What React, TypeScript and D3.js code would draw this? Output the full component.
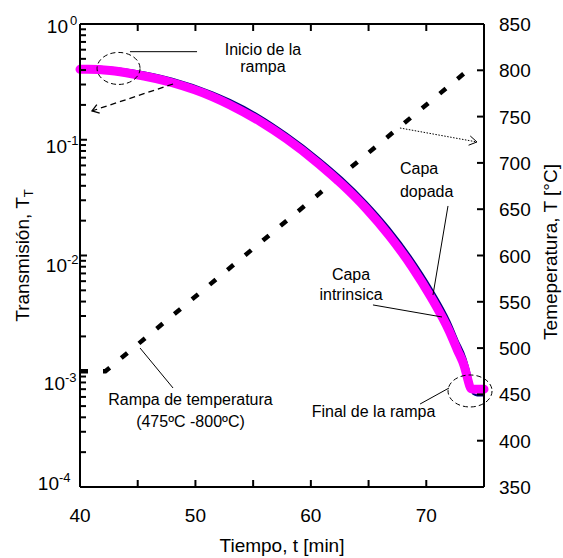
import React from "react";
import * as d3 from "d3";

// ---------- data ----------
const timeIntrinsic = [40, 40.7, 42.6, 44.6, 48.0, 51.5, 53.0, 55.6, 57.9, 60.7, 62.7, 64.8, 66.8, 68.8, 70.4, 72.0, 72.7, 73.3, 73.6, 73.85, 74.2, 75.0];
const transIntrinsic = [0.406, 0.406, 0.396, 0.37, 0.311, 0.235, 0.2, 0.144, 0.1016, 0.0618, 0.0412, 0.0254, 0.01483, 0.00789, 0.00438, 0.00221, 0.00152, 0.0011, 0.00085, 0.00071, 0.0007, 0.0007];
const timeDoped = [40, 40.7, 42.6, 44.6, 48.0, 51.5, 53.0, 55.6, 57.9, 60.7, 62.7, 64.8, 66.8, 68.8, 70.4, 72.0, 72.7, 73.4, 73.8, 74.05, 74.4, 75.0];
const transDoped = [0.43, 0.43, 0.42, 0.396, 0.336, 0.256, 0.22, 0.16, 0.1128, 0.0692, 0.0466, 0.029, 0.0172, 0.00931, 0.00526, 0.0027, 0.00185, 0.00128, 0.0009, 0.00064, 0.00062, 0.00062];
const rampTime = [40, 42.2, 73.6];
const rampTemp = [475, 475, 800];

const xTickLabels = [40, 50, 60, 70];
const xInnerTicks = [45, 50, 55, 60, 65, 70];
const leftDecades = [0, -1, -2, -3, -4];
const rightTicks = [350, 400, 450, 500, 550, 600, 650, 700, 750, 800, 850];

// annotation texts
const txtInicio = ["Inicio de la", "rampa"];
const txtDopada = ["Capa", "dopada"];
const txtIntr = ["Capa", "intrinsica"];
const txtRampa = ["Rampa de temperatura", "(475ºC -800ºC)"];
const txtFinal = "Final de la rampa";

// ---------- layout ----------
const W = 563;
const H = 558;
const L = 80, R = 484, T = 24, B = 487;
const FONT = "'Liberation Sans', Arial, Helvetica, sans-serif";
// per-label nudges of the left log labels (baseline offset, right edge of "10")
const decadeNudge = [
  { dy: 9, xr: 68, ex: 2 },
  { dy: 13, xr: 67, ex: 0 },
  { dy: 16, xr: 67, ex: 0 },
  { dy: 19, xr: 65, ex: 0 },
  { dy: 3, xr: 59, ex: 0 },
];

export default function App() {
  const x = d3.scaleLinear().domain([40, 75]).range([L, R]);
  const yL = d3.scaleLog().domain([1e-4, 1]).range([B, T]);
  const yR = d3.scaleLinear().domain([350, 850]).range([B, T]);

  const lineL = d3
    .line<[number, number]>()
    .x((d) => x(d[0]))
    .y((d) => yL(d[1]))
    .curve(d3.curveMonotoneX);
  const lineR = d3
    .line<[number, number]>()
    .x((d) => x(d[0]))
    .y((d) => yR(d[1]));

  const intrinsic = timeIntrinsic.map((t, i) => [t, transIntrinsic[i]] as [number, number]);
  const doped = timeDoped.map((t, i) => [t, transDoped[i]] as [number, number]);
  const ramp = rampTime.map((t, i) => [t, rampTemp[i]] as [number, number]);

  // minor log ticks
  const minor: number[] = [];
  for (let e = -4; e < 0; e++) for (let m = 2; m <= 9; m++) minor.push(m * Math.pow(10, e));

  // annotation helper (time, temperature) -> px
  const P = (t: number, c: number) => [x(t), yR(c)];

  const arrowHead = (from: number[], to: number[], len: number, ang: number) => {
    const a = Math.atan2(from[1] - to[1], from[0] - to[0]);
    const p1 = [to[0] + len * Math.cos(a + ang), to[1] + len * Math.sin(a + ang)];
    const p2 = [to[0] + len * Math.cos(a - ang), to[1] + len * Math.sin(a - ang)];
    return `M${p1[0]},${p1[1]}L${to[0]},${to[1]}L${p2[0]},${p2[1]}`;
  };

  const inicioC = P(43.34, 802);
  const inicioLine = [P(44.33, 820.1), P(50.14, 820.1)];
  const dashArrow = [P(48.06, 785.2), P(41.04, 756.1)];
  const dotArrow = [P(67.72, 737.7), P(74.39, 722.6)];
  const dopadaLine = [P(71.88, 653.5), P(70.58, 557.4)];
  const intrLine = [P(65.38, 546.6), P(71.36, 533.6)];
  const rampaLine = [P(45.2, 500.1), P(48.06, 456.9)];
  const finalLine = [P(69.46, 439.6), P(71.97, 456.9)];
  const finalC = P(73.79, 453.7);

  const seg = (s: number[][]) => `M${s[0][0]},${s[0][1]}L${s[1][0]},${s[1][1]}`;

  return (
    <svg
      width={W}
      height={H}
      style={{ position: "absolute", left: 0, top: 0, background: "#fff" }}
      fontFamily={FONT}
    >
      <rect x={0} y={0} width={W} height={H} fill="#fff" />

      {/* ramp (right axis) */}
      <path
        d={lineR(ramp) || ""}
        fill="none"
        stroke="#000"
        strokeWidth={4.5}
        strokeDasharray="8,15"
      />

      {/* transmission curves: doped (blue) below, intrinsic (magenta) on top */}
      <path d={lineL(doped) || ""} fill="none" stroke="#000080" strokeWidth={2.2} />
      <path d={lineL(intrinsic) || ""} fill="none" stroke="#FF00FF" strokeWidth={9} strokeLinejoin="round" strokeLinecap="round" />

      {/* frame */}
      <g stroke="#000" strokeWidth={2} fill="none">
        <line x1={L} y1={T} x2={R} y2={T} />
        <line x1={L} y1={B} x2={R} y2={B} />
        <line x1={L} y1={T} x2={L} y2={B} />
        <line x1={R} y1={T} x2={R} y2={B} />
      </g>

      {/* ticks */}
      <g stroke="#000" strokeWidth={2}>
        {xInnerTicks.map((t) => (
          <g key={t}>
            <line x1={x(t)} x2={x(t)} y1={B} y2={B - 7} />
            <line x1={x(t)} x2={x(t)} y1={T} y2={T + 7} />
          </g>
        ))}
        {leftDecades.map((e) => (
          <line key={e} x1={L} x2={L + 7} y1={yL(Math.pow(10, e))} y2={yL(Math.pow(10, e))} />
        ))}
        {minor.map((v, i) => (
          <line key={i} x1={L} x2={L + 6} y1={yL(v)} y2={yL(v)} />
        ))}
        {rightTicks.map((v) => (
          <line key={v} x1={R} x2={R - 7} y1={yR(v)} y2={yR(v)} />
        ))}
      </g>

      {/* x tick labels */}
      <g fontSize={19} textAnchor="middle" fill="#000">
        {xTickLabels.map((t) => (
          <text key={t} x={x(t)} y={522}>
            {t}
          </text>
        ))}
      </g>

      {/* left tick labels */}
      <g fill="#000">
        {leftDecades.map((e, i) => {
          const yy = yL(Math.pow(10, e));
          const n = decadeNudge[i];
          return (
            <g key={e}>
              <text x={n.xr} y={yy + n.dy} fontSize={19} textAnchor="end">
                10
              </text>
              <text x={n.xr + n.ex} y={yy + n.dy - 8} fontSize={13} textAnchor="start">
                {e === 0 ? "0" : `-${-e}`}
              </text>
            </g>
          );
        })}
      </g>

      {/* right tick labels */}
      <g fontSize={19} fill="#000">
        {rightTicks.map((v) => (
          <text key={v} x={499} y={yR(v) + 7}>
            {v}
          </text>
        ))}
      </g>

      {/* axis titles */}
      <text x={(L + R) / 2} y={552} fontSize={19} textAnchor="middle" fill="#000">
        Tiempo, t [min]
      </text>
      <text
        transform={`translate(29,${(T + B) / 2}) rotate(-90)`}
        fontSize={19}
        textAnchor="middle"
        fill="#000"
      >
        Transmisión, T<tspan fontSize={13} dy={4}>T</tspan>
      </text>
      <text
        transform={`translate(557,${252}) rotate(-90)`}
        fontSize={19}
        textAnchor="middle"
        fill="#000"
      >
        Temeperatura, T [°C]
      </text>

      {/* annotations */}
      <g fill="none" stroke="#000" strokeWidth={1}>
        <ellipse cx={inicioC[0]} cy={inicioC[1]} rx={21.5} ry={16} strokeDasharray="5,3" />
        <path d={seg(inicioLine)} />
        <path d={seg(dashArrow)} strokeDasharray="6,4" strokeWidth={1.3} />
        <path d={arrowHead(dashArrow[0], dashArrow[1], 8, 0.6)} strokeWidth={1.3} />
        <path d={seg(dotArrow)} strokeDasharray="1.5,1.5" />
        <path d={arrowHead(dotArrow[0], dotArrow[1], 9, 0.55)} />
        <path d={seg(dopadaLine)} />
        <path d={seg(intrLine)} />
        <path d={seg(rampaLine)} />
        <path d={seg(finalLine)} />
        <ellipse cx={finalC[0]} cy={finalC[1]} rx={22} ry={16} strokeDasharray="5,3" />
      </g>

      <g fontSize={16} fill="#000">
        <text x={x(55.85)} y={yR(816.5)} textAnchor="middle">{txtInicio[0]}</text>
        <text x={x(55.85)} y={yR(798.1)} textAnchor="middle">{txtInicio[1]}</text>
        <text x={x(67.72)} y={yR(687.5)}>{txtDopada[0]}</text>
        <text x={x(67.72)} y={yR(663.7)}>{txtDopada[1]}</text>
        <text x={x(63.48)} y={yR(573.6)} textAnchor="middle">{txtIntr[0]}</text>
        <text x={x(63.48)} y={yR(552.0)} textAnchor="middle">{txtIntr[1]}</text>
        <text x={x(49.57)} y={yR(438.6)} textAnchor="middle">{txtRampa[0]}</text>
        <text x={x(49.57)} y={yR(414.8)} textAnchor="middle">{txtRampa[1]}</text>
        <text x={x(65.43)} y={yR(426.1)} textAnchor="middle">{txtFinal}</text>
      </g>
    </svg>
  );
}
